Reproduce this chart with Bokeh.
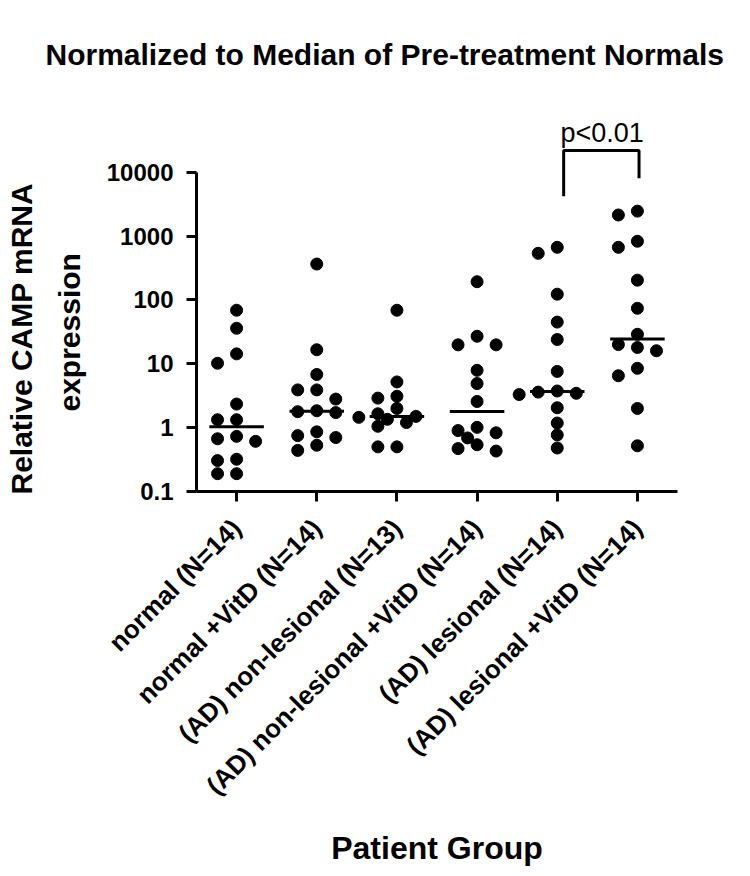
import math
import numpy as np
from bokeh.plotting import figure
from bokeh.models import (Range1d, FixedTicker, CustomJSTickFormatter, Title)
from bokeh.core.properties import value
from bokeh.embed import file_html
from bokeh.resources import INLINE

# ---------------- data ----------------
groups = ["normal (N=14)", "normal +VitD (N=14)", "(AD) non-lesional (N=13)",
          "(AD) non-lesional +VitD (N=14)", "(AD) lesional (N=14)", "(AD) lesional +VitD (N=14)"]

normal = [69, 36, 14.3, 10.2, 2.34, 1.33, 1.33, 0.73, 0.67, 0.61, 0.32, 0.305, 0.19, 0.19]
normal_vitd = [365, 16.6, 6.8, 3.9, 3.9, 2.8, 1.84, 1.78, 1.72, 0.86, 0.75, 0.70, 0.53, 0.44]
ad_nonlesional = [69, 5.2, 3.1, 2.9, 2.0, 1.65, 1.5, 1.45, 1.35, 1.2, 1.05, 0.5, 0.5]
ad_nonlesional_vitd = [193, 27, 19.8, 19.8, 7.9, 4.9, 2.57, 1.01, 0.9, 0.83, 0.69, 0.54, 0.47, 0.43]
ad_lesional = [667, 537, 123, 45, 24, 7.6, 3.75, 3.6, 3.45, 3.3, 2.05, 1.18, 0.77, 0.48]
ad_lesional_vitd = [2460, 2140, 830, 667, 204, 74, 29, 20, 18, 16, 8.5, 6.5, 2.0, 0.52]

series = [normal, normal_vitd, ad_nonlesional, ad_nonlesional_vitd, ad_lesional, ad_lesional_vitd]

y_ticks = [0.1, 1, 10, 100, 1000, 10000]
p_text = "p<0.01"

# ---------------- layout helpers ----------------
PX_PER_UNIT = 80.0
PX_PER_DECADE = 64.0
DOT = 12
STEP = 0.2375  # horizontal swarm step in category units


def swarm_offsets(vals):
    order = sorted(range(len(vals)), key=lambda i: -vals[i])
    placed = []
    offs = [0.0] * len(vals)
    cands = [0, -1, 1, -0.5, 0.5, -1.5, 1.5, -2, 2]
    for i in order:
        y = math.log10(vals[i]) * PX_PER_DECADE
        chosen = 0
        for c in cands:
            dx = c * STEP * PX_PER_UNIT
            if all((dx - px) ** 2 + (y - py) ** 2 >= (DOT - 1) ** 2 for px, py in placed):
                chosen = c
                break
        placed.append((chosen * STEP * PX_PER_UNIT, y))
        offs[i] = chosen * STEP
    return offs


xs, ys = [], []
med_x0, med_x1, med_y = [], [], []
for gi, vals in enumerate(series):
    offs = swarm_offsets(vals)
    xs += [gi + o for o in offs]
    ys += list(vals)
    m = float(np.median(vals))
    med_x0.append(gi - 0.34)
    med_x1.append(gi + 0.34)
    med_y.append(m)

FONT = "Liberation Sans"

p = figure(width=742, height=868, output_backend="svg", toolbar_location=None,
           x_range=Range1d(-0.5, 5.5), y_range=Range1d(0.1, 10 ** 5.28),
           y_axis_type="log",
           min_border_left=196, min_border_right=65, min_border_top=90, min_border_bottom=376)
p.outline_line_color = None
p.xgrid.visible = False
p.ygrid.visible = False

p.title.text = "Normalized to Median of Pre-treatment Normals"
p.title.text_font = FONT
p.title.text_font_style = "bold"
p.title.text_font_size = "30px"
p.title.text_color = "black"
p.title.align = "left"
p.title.offset = -151
p.title.standoff = 40

# y axis
ya = p.yaxis[0]
ya.ticker = FixedTicker(ticks=y_ticks)
ya.formatter = CustomJSTickFormatter(code="return tick < 1 ? tick.toFixed(1) : tick.toFixed(0);")
ya.bounds = (0.1, 10000)
ya.axis_line_width = 3
ya.major_tick_line_width = 3
ya.major_tick_out = 10
ya.major_tick_in = 0
ya.minor_tick_line_color = None
ya.major_label_text_font = FONT
ya.major_label_text_font_style = "bold"
ya.major_label_text_font_size = "24px"
ya.major_label_text_color = "black"
ya.major_label_standoff = 13

# x axis
xa = p.xaxis[0]
xa.ticker = FixedTicker(ticks=list(range(len(groups))))
xa.major_label_overrides = {i: g for i, g in enumerate(groups)}
xa.bounds = (-0.5, 5.5)
xa.axis_line_width = 3
xa.major_tick_line_width = 3
xa.major_tick_out = 10
xa.major_tick_in = 0
xa.minor_tick_line_color = None
xa.major_label_orientation = math.pi / 4
xa.major_label_text_font = FONT
xa.major_label_text_font_style = "bold"
xa.major_label_text_font_size = "26px"
xa.major_label_text_color = "black"
xa.major_label_standoff = 22
xa.axis_label = "Patient Group"
xa.axis_label_text_font = FONT
xa.axis_label_text_font_style = "bold"
xa.axis_label_text_font_size = "32px"
xa.axis_label_text_color = "black"
xa.axis_label_standoff = 16

# y axis label as two stacked left-side titles (bottom-aligned, shifted up by offset)
for txt, off, so in [("expression", 80, 36), ("Relative CAMP mRNA", -3, -10)]:
    p.add_layout(Title(text=txt, align="left", offset=off, standoff=so,
                       text_font=FONT, text_font_style="bold", text_font_size="30px",
                       text_color="black"), "left")

# points and medians
p.scatter(x=xs, y=ys, size=DOT, marker="circle", fill_color="black", line_color="black")
p.segment(x0=med_x0, x1=med_x1, y0=med_y, y1=med_y, line_color="black", line_width=3)

# significance bracket
p.line(x=[4.08, 4.08, 5.02, 5.02], y=[4200, 21900, 21900, 8050], line_color="black", line_width=3)
p.text(x=[4.56], y=[10 ** 4.61], text=[p_text], text_align="center", text_baseline="alphabetic",
       text_font=value(FONT), text_font_size="27px", text_color="black")

open("out.html", "w").write(file_html(p, INLINE))
